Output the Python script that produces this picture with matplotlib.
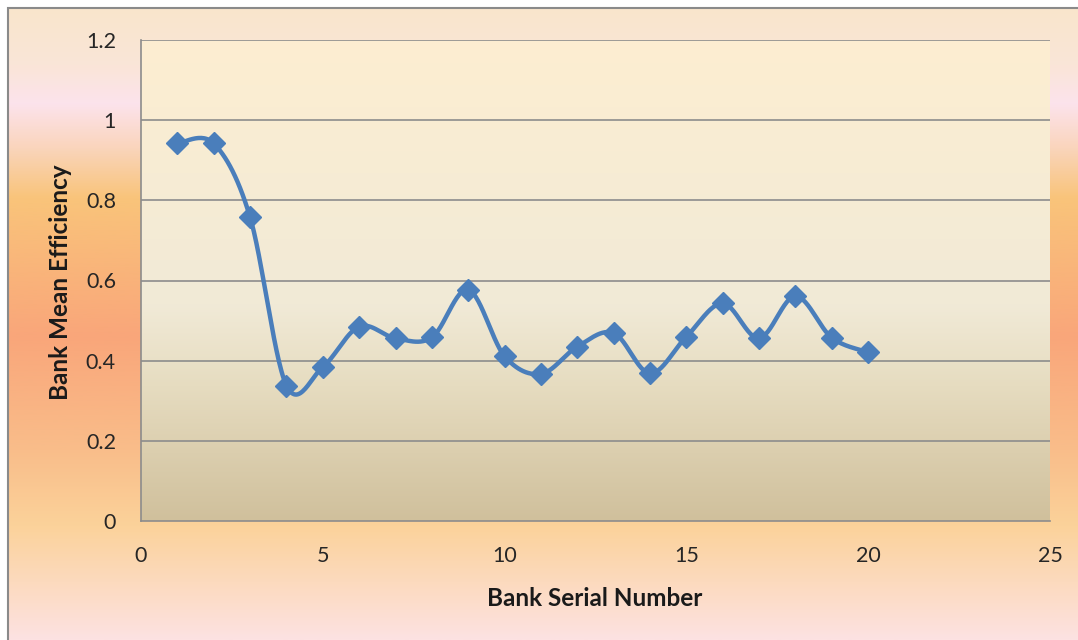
"""Bank mean efficiency by serial number, Excel-style smoothed line"""
import numpy as np
import matplotlib.pyplot as plt
from matplotlib.colors import LinearSegmentedColormap
from matplotlib.patches import Rectangle

bank_no = [1, 2, 3, 4, 5, 6, 7, 8, 9, 10, 11, 12, 13, 14, 15, 16, 17, 18, 19, 20]
efficiency = [0.942, 0.942, 0.758, 0.338, 0.384, 0.485, 0.456, 0.458, 0.577, 0.411,
              0.367, 0.435, 0.469, 0.368, 0.460, 0.543, 0.456, 0.561, 0.457, 0.421]
x_ticks = [0, 5, 10, 15, 20, 25]
y_ticks = [0, 0.2, 0.4, 0.6, 0.8, 1, 1.2]
y_tick_labels = ["0", "0.2", "0.4", "0.6", "0.8", "1", "1.2"]

plt.rcParams['font.family'] = ['Lato', 'DejaVu Sans']


def smooth(xs, ys, n=30):
    # Catmull-Rom style bezier, like Excel "smoothed line"
    xs = np.asarray(xs, float)
    ys = np.asarray(ys, float)
    px = np.concatenate([[xs[0]], xs, [xs[-1]]])
    py = np.concatenate([[ys[0]], ys, [ys[-1]]])
    t = np.linspace(0, 1, n)[:, None]
    out_x, out_y = [], []
    for i in range(1, len(px) - 2):
        p0 = np.array([px[i], py[i]])
        p1 = np.array([px[i + 1], py[i + 1]])
        b1 = p0 + (p1 - np.array([px[i - 1], py[i - 1]])) / 6
        b2 = p1 - (np.array([px[i + 2], py[i + 2]]) - p0) / 6
        c = ((1 - t) ** 3) * p0 + 3 * ((1 - t) ** 2) * t * b1 + 3 * (1 - t) * t ** 2 * b2 + t ** 3 * p1
        out_x.append(c[:, 0])
        out_y.append(c[:, 1])
    return np.concatenate(out_x), np.concatenate(out_y)


W, H = 1078, 640
fig = plt.figure(figsize=(W / 100, H / 100), dpi=100)
fig.patch.set_facecolor("white")

# outer chart-area background
bg = fig.add_axes([8 / W, 0, 1 - 8 / W, 1 - 8 / H], zorder=0)
bg_cmap = LinearSegmentedColormap.from_list("outer", [
    (0.00, "#f9e6cc"),
    (0.09, "#fae5d8"),
    (0.15, "#fce3ec"),
    (0.22, "#fad5bc"),
    (0.30, "#f9c47a"),
    (0.52, "#f9a67a"),
    (0.70, "#f9bd8a"),
    (0.82, "#fbd29a"),
    (1.00, "#fde2e2"),
])
bg.imshow(np.linspace(0, 1, 256)[:, None], aspect="auto", cmap=bg_cmap,
          extent=[0, 1, 0, 1], origin="upper")
bg.set_axis_off()
fig.add_artist(Rectangle((8 / W, -0.01), 1.0, 1 - 8 / H + 0.01, transform=fig.transFigure,
                         fill=False, edgecolor="#8a8a8a", linewidth=1.5, zorder=1))

ax = fig.add_axes([141 / W, (H - 521) / H, 909 / W, 481 / H], zorder=2)
ax.set_xlim(0, 25)
ax.set_ylim(0, 1.2)

pa_cmap = LinearSegmentedColormap.from_list("plot", [
    (0.00, "#fdeed1"),
    (0.55, "#f1ead7"),
    (0.72, "#e6dcc0"),
    (1.00, "#d0c09c"),
])
ax.imshow(np.linspace(0, 1, 256)[:, None], aspect="auto", cmap=pa_cmap,
          extent=[0, 25, 0, 1.2], origin="upper", zorder=0)

for v in y_ticks[1:]:
    ax.axhline(v, color="#8c8c8c", linewidth=1.2, zorder=1)

sx, sy = smooth(bank_no, efficiency)
ax.plot(sx, sy, color="#4a7ebb", linewidth=3.2, zorder=3, solid_capstyle="round")
ax.plot(bank_no, efficiency, linestyle="none", marker="D", markersize=11,
        color="#4a7ebb", zorder=4)

ax.set_xticks(x_ticks)
ax.set_yticks(y_ticks)
ax.set_yticklabels(y_tick_labels)
ax.tick_params(length=0, labelsize=15.5, colors="#262626")
ax.tick_params(axis="x", pad=18)
ax.tick_params(axis="y", pad=18)
for s in ["top", "right"]:
    ax.spines[s].set_visible(False)
for s in ["left", "bottom"]:
    ax.spines[s].set_color("#8c8c8c")
    ax.spines[s].set_linewidth(1.2)

fig.text(595 / W, 1 - 598 / H, "Bank Serial Number", fontsize=17.5, fontweight="bold",
         color="#1a1a1a", ha="center", va="center")
fig.text(61 / W, 1 - 282 / H, "Bank Mean Efficiency", fontsize=17.5, fontweight="bold",
         color="#1a1a1a", ha="center", va="center", rotation=90)

fig.savefig("out.png", dpi=100)
